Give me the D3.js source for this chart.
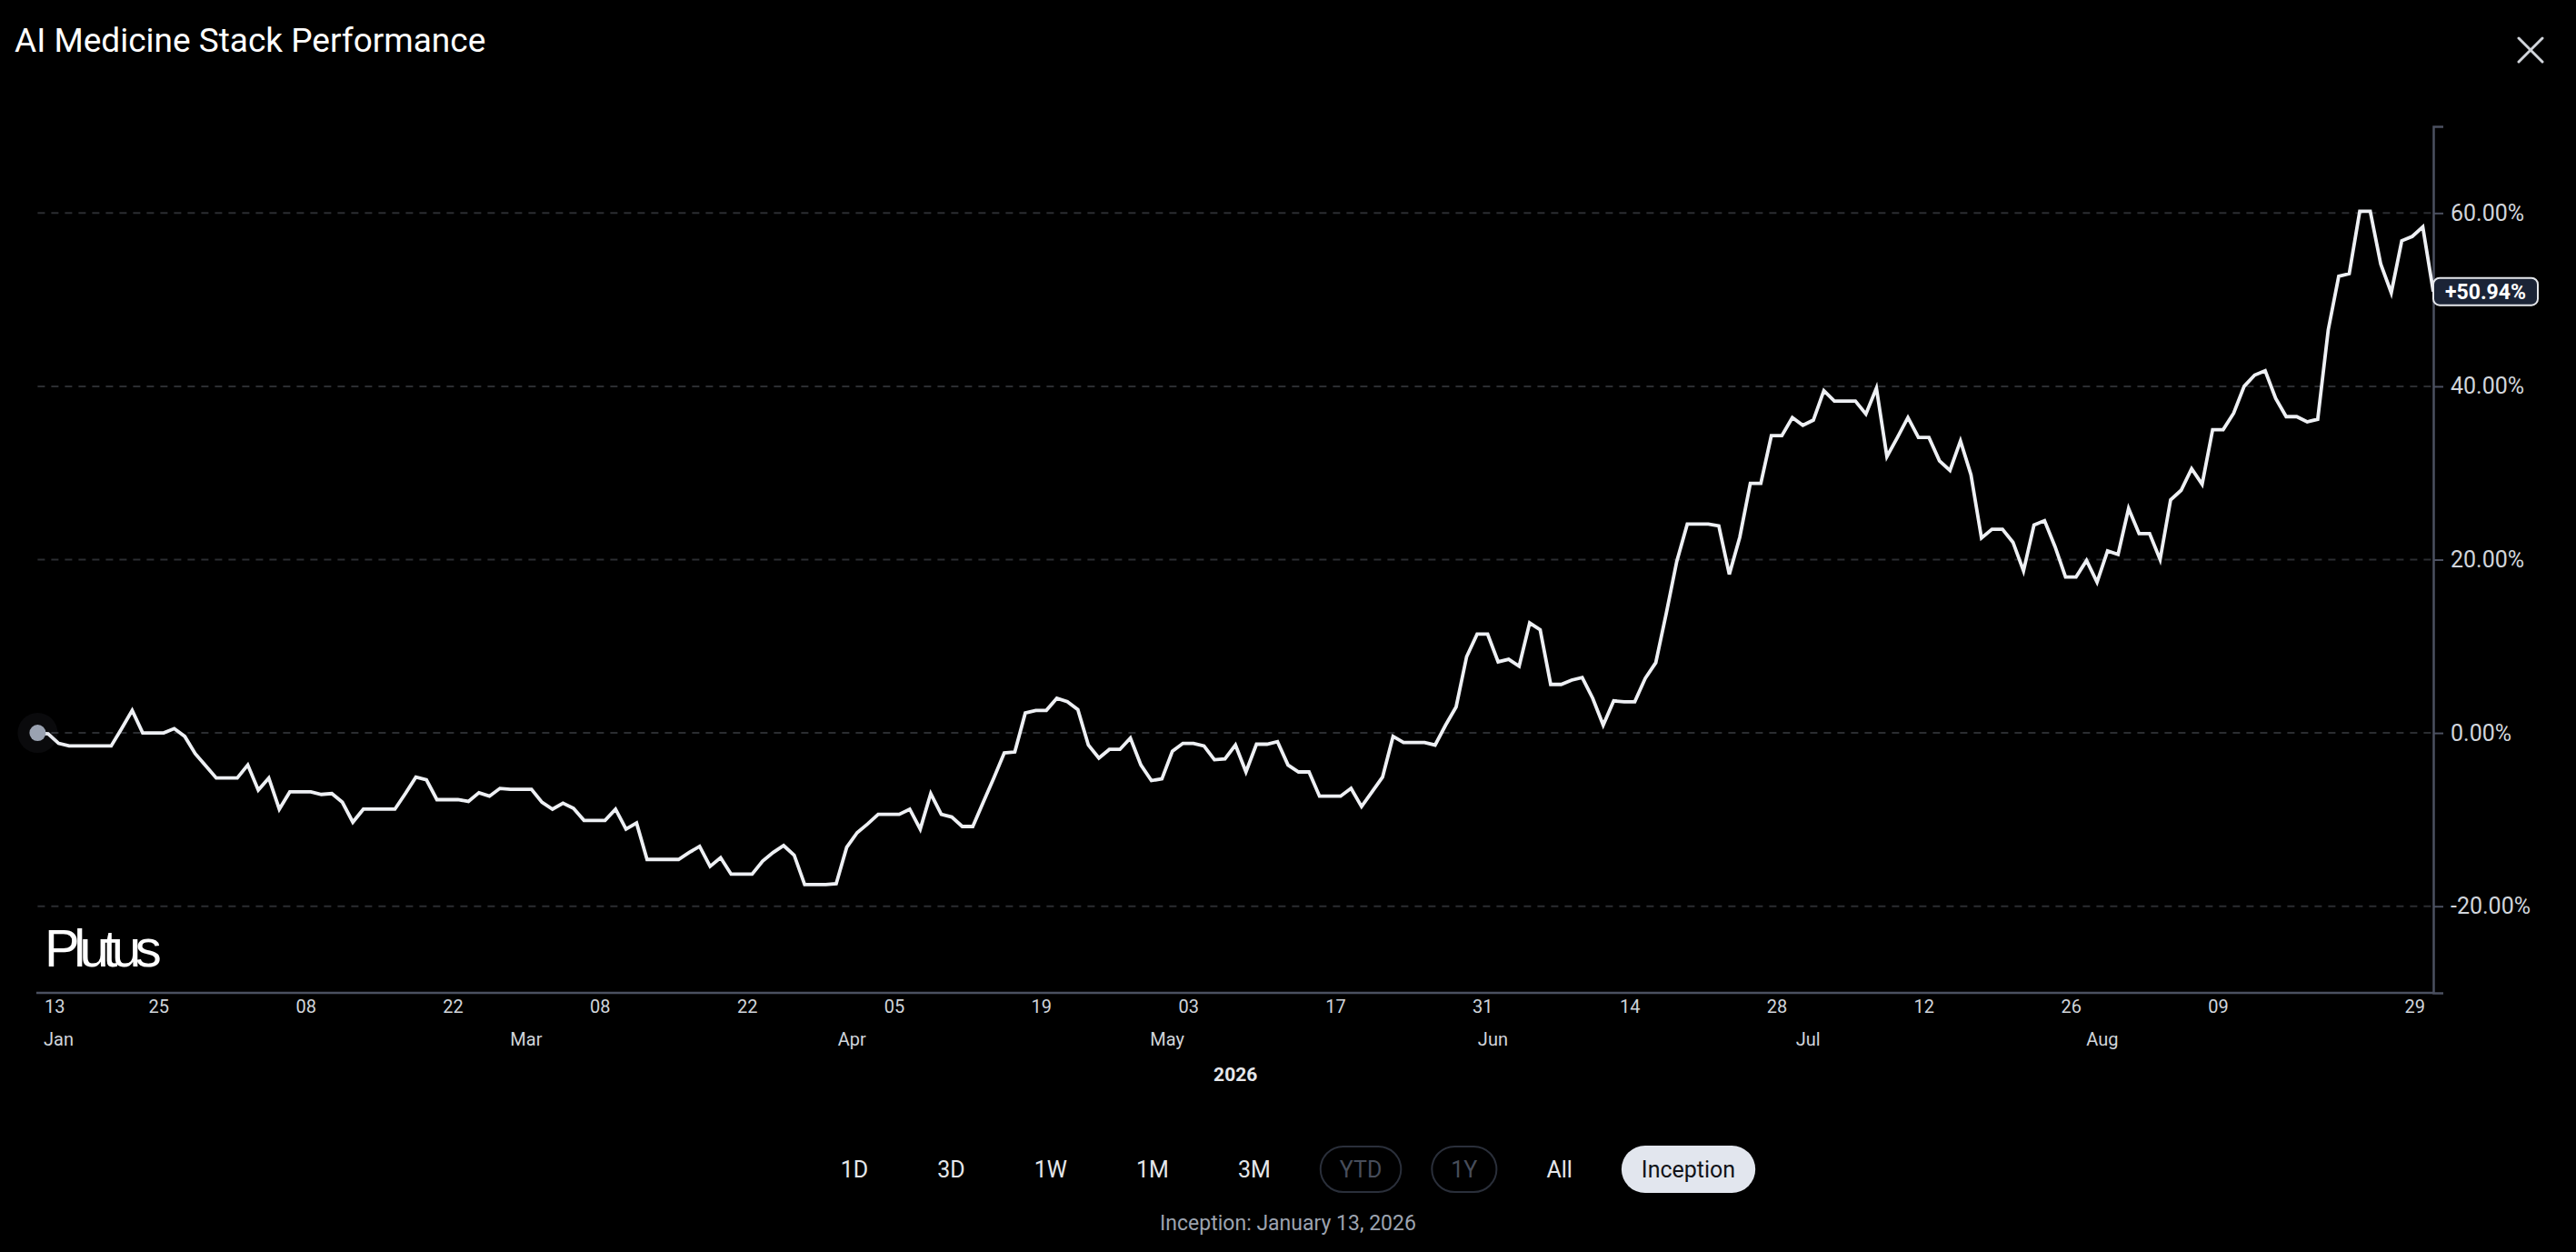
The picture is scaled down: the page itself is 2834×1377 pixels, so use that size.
<!DOCTYPE html>
<html><head><meta charset="utf-8">
<script src="https://cdn.jsdelivr.net/npm/d3@7"></script>
<style>html,body{margin:0;padding:0;background:#000;overflow:hidden}</style>
</head><body>
<svg id="chart" width="2834" height="1377"></svg>
<script>
// ---------- data ----------
const title = "AI Medicine Stack Performance";
const startDate = "2026-01-13";          // first daily observation
const values = [
  0,-0.1,-1.2,-1.5,-1.5,-1.5,-1.5,-1.5,0.5,2.6,
  0,0,0,0.5,-0.4,-2.4,-3.8,-5.2,-5.2,-5.2,
  -3.7,-6.6,-5.2,-8.8,-6.8,-6.8,-6.8,-7.1,-7.0,-8.0,
  -10.3,-8.8,-8.8,-8.8,-8.8,-7.0,-5.1,-5.4,-7.7,-7.7,
  -7.7,-7.9,-6.9,-7.3,-6.4,-6.5,-6.5,-6.5,-8.0,-8.8,
  -8.1,-8.7,-10.1,-10.1,-10.1,-8.8,-11.1,-10.4,-14.6,-14.6,
  -14.6,-14.6,-13.8,-13.1,-15.4,-14.4,-16.3,-16.3,-16.3,-14.8,
  -13.8,-13.0,-14.1,-17.5,-17.5,-17.5,-17.4,-13.2,-11.5,-10.5,
  -9.4,-9.4,-9.4,-8.8,-11.1,-7.0,-9.4,-9.7,-10.8,-10.8,
  -8.0,-5.2,-2.3,-2.2,2.3,2.6,2.6,4.0,3.6,2.7,
  -1.4,-2.9,-1.9,-1.9,-0.6,-3.7,-5.5,-5.3,-2.1,-1.2,
  -1.2,-1.5,-3.1,-3.0,-1.4,-4.5,-1.3,-1.3,-1.0,-3.7,
  -4.5,-4.5,-7.3,-7.3,-7.3,-6.4,-8.5,-6.8,-5.1,-0.4,
  -1.1,-1.1,-1.1,-1.4,0.9,3.0,8.8,11.4,11.4,8.2,
  8.5,7.7,12.7,11.9,5.6,5.6,6.1,6.4,4.0,0.9,
  3.7,3.6,3.6,6.3,8.1,13.8,19.8,24.1,24.1,24.1,
  23.9,18.3,22.6,28.8,28.8,34.3,34.3,36.4,35.5,36.1,
  39.5,38.3,38.3,38.3,36.8,39.8,31.9,34.1,36.4,34.1,
  34.1,31.4,30.3,33.7,29.8,22.5,23.5,23.5,22.0,18.7,
  24.0,24.5,21.5,18.0,18.0,19.9,17.4,21.0,20.6,25.9,
  23.0,23.0,20.0,26.9,28.0,30.5,28.7,35.0,35.0,36.9,
  40.0,41.3,41.8,38.6,36.5,36.5,35.9,36.2,46.5,52.7,
  53.0,60.2,60.2,54.1,50.8,56.8,57.3,58.4,50.94
];
const yDomain = [-30, 70];
const yTicks = [-20, 0, 20, 40, 60];
const dayTicks = ["2026-01-13","2026-01-25","2026-02-08","2026-02-22","2026-03-08","2026-03-22",
  "2026-04-05","2026-04-19","2026-05-03","2026-05-17","2026-05-31","2026-06-14","2026-06-28",
  "2026-07-12","2026-07-26","2026-08-09","2026-08-29"];
const monthLabels = ["Jan","Mar","Apr","May","Jun","Jul","Aug"];
const monthDates  = ["2026-01-13","2026-03-01","2026-04-01","2026-05-01","2026-06-01","2026-07-01","2026-07-29"];
const yearLabel = "2026";
const rangeButtons = ["1D","3D","1W","1M","3M","YTD","1Y","All","Inception"];
const disabledButtons = ["YTD","1Y"];
const activeButton = "Inception";
const footnote = "Inception: January 13, 2026";
const watermark = "Plutus";

// ---------- setup ----------
const svg = d3.select("#chart");
const FONT = "Roboto, 'Liberation Sans', sans-serif";
const parseDay = d3.timeParse("%Y-%m-%d");
const start = parseDay(startDate);
const data = values.map((v, i) => ({ date: d3.timeHour.offset(d3.timeDay.offset(start, i), 12), v }));

const plotLeft = 41.4, plotRight = 2677, plotTop = 139, plotBottom = 1092;
const x = d3.scaleTime().domain(d3.extent(data, d => d.date)).range([plotLeft, plotRight]);
const y = d3.scaleLinear().domain(yDomain).range([plotBottom, plotTop]);

// title
svg.append("text").attr("x", 16).attr("y", 57).attr("fill", "#ffffff")
  .attr("font-family", FONT).attr("font-size", 37).text(title);

// close icon
const cx = 2784, cy = 55, cs = 13;
svg.append("path").attr("d", `M${cx-cs},${cy-cs}L${cx+cs},${cy+cs}M${cx+cs},${cy-cs}L${cx-cs},${cy+cs}`)
  .attr("stroke", "#d1d5db").attr("stroke-width", 3).attr("stroke-linecap", "round");

// grid
svg.append("g").selectAll("line").data(yTicks).join("line")
  .attr("x1", plotLeft).attr("x2", plotRight).attr("y1", d => y(d)).attr("y2", d => y(d))
  .attr("stroke", "#2b2d31").attr("stroke-width", 2).attr("stroke-dasharray", "8,7");

// watermark
svg.append("text").attr("x", 49).attr("y", 1063).attr("fill", "#ffffff")
  .attr("font-family", "'Liberation Sans', Arial, sans-serif").attr("font-size", 58)
  .attr("letter-spacing", "-6.5px").text(watermark);

// x axis line
svg.append("line").attr("x1", 40).attr("x2", plotRight).attr("y1", plotBottom).attr("y2", plotBottom)
  .attr("stroke", "#4b5060").attr("stroke-width", 2.5);

// y axis (right)
const yAxis = svg.append("g").attr("transform", `translate(${plotRight},0)`)
  .call(d3.axisRight(y).tickValues(yTicks).tickSize(11).tickSizeOuter(11).tickPadding(8)
    .tickFormat(d => d.toFixed(2) + "%"));
yAxis.select(".domain").attr("stroke", "#4b5060").attr("stroke-width", 2.5);
yAxis.selectAll(".tick line").attr("stroke", "#4b5060").attr("stroke-width", 2);
yAxis.selectAll(".tick text").attr("fill", "#d1d5db").attr("font-family", FONT).attr("font-size", 25);

// x axis day ticks
const tickDates = dayTicks.map(parseDay);
const xAxis = svg.append("g").attr("transform", `translate(0,${plotBottom})`)
  .call(d3.axisBottom(x).tickValues(tickDates).tickSize(0).tickPadding(8).tickFormat(d3.timeFormat("%d")));
xAxis.select(".domain").remove();
xAxis.selectAll(".tick text").attr("fill", "#d1d5db").attr("font-family", FONT).attr("font-size", 20);
const nT = tickDates.length;
xAxis.selectAll(".tick").each(function(d, i) {
  const t = d3.select(this).select("text");
  if (i === 0) { d3.select(this).attr("transform", "translate(49,0)"); t.attr("text-anchor", "start"); }
  if (i === nT - 1) { d3.select(this).attr("transform", "translate(2668,0)"); t.attr("text-anchor", "end"); }
});

// month labels
svg.append("g").selectAll("text").data(monthLabels).join("text")
  .attr("x", (d, i) => i === 0 ? 48 : x(parseDay(monthDates[i])))
  .attr("y", 1150)
  .attr("text-anchor", (d, i) => i === 0 ? "start" : "middle")
  .attr("fill", "#d1d5db").attr("font-family", FONT).attr("font-size", 20).text(d => d);

// year label
svg.append("text").attr("x", (plotLeft + plotRight) / 2).attr("y", 1189).attr("text-anchor", "middle")
  .attr("fill", "#e5e7eb").attr("font-family", FONT).attr("font-size", 21).attr("font-weight", "bold")
  .text(yearLabel);

// line
svg.append("path").datum(data)
  .attr("d", d3.line().x(d => x(d.date)).y(d => y(d.v)))
  .attr("fill", "none").attr("stroke", "#eef0f4").attr("stroke-width", 3.8)
  .attr("stroke-linejoin", "miter");

// start marker
const first = data[0];
svg.append("circle").attr("cx", x(first.date)).attr("cy", y(first.v)).attr("r", 22)
  .attr("fill", "#8a93a6").attr("opacity", 0.07);
svg.append("circle").attr("cx", x(first.date)).attr("cy", y(first.v)).attr("r", 9)
  .attr("fill", "#9aa2b1");

// last value badge
const last = data[data.length - 1];
const badge = svg.append("g").attr("transform", `translate(${plotRight},${y(last.v)})`);
badge.append("rect").attr("x", 0).attr("y", -15).attr("width", 115).attr("height", 30).attr("rx", 7)
  .attr("fill", "#1b2436").attr("stroke", "#e5e7eb").attr("stroke-width", 2);
badge.append("text").attr("x", 57.5).attr("y", 0).attr("dy", "0.36em").attr("text-anchor", "middle")
  .attr("fill", "#ffffff").attr("font-family", FONT).attr("font-size", 23).attr("font-weight", "bold")
  .text((last.v >= 0 ? "+" : "") + last.v.toFixed(2) + "%");

// range buttons
const btnG = svg.append("g");
const pad = 22, gap = 32, bh = 52, by = 1286;
const measures = rangeButtons.map(b => {
  const t = btnG.append("text").attr("font-family", FONT).attr("font-size", 25).text(b);
  const w = t.node().getComputedTextLength(); t.remove(); return w;
});
const widths = measures.map(w => w + 2 * pad);
const total = d3.sum(widths) + gap * (widths.length - 1);
let cursor = 1417 - total / 2;
rangeButtons.forEach((b, i) => {
  const w = widths[i];
  const g = btnG.append("g").attr("transform", `translate(${cursor},${by})`);
  const disabled = disabledButtons.includes(b), active = b === activeButton;
  if (active) {
    g.append("rect").attr("x", 0).attr("y", -bh / 2).attr("width", w).attr("height", bh).attr("rx", bh / 2)
      .attr("fill", "#e2e6ee");
  } else if (disabled) {
    g.append("rect").attr("x", 1).attr("y", -bh / 2 + 1).attr("width", w - 2).attr("height", bh - 2).attr("rx", bh / 2 - 1)
      .attr("fill", "none").attr("stroke", "#2a2f3a").attr("stroke-width", 2);
  }
  g.append("text").attr("x", w / 2).attr("y", 0).attr("dy", "0.36em").attr("text-anchor", "middle")
    .attr("font-family", FONT).attr("font-size", 25)
    .attr("fill", active ? "#111318" : disabled ? "#474d5a" : "#e5e7eb").text(b);
  cursor += w + gap;
});

// footnote
svg.append("text").attr("x", 1417).attr("y", 1345).attr("dy", "0.36em").attr("text-anchor", "middle")
  .attr("fill", "#9ca3af").attr("font-family", FONT).attr("font-size", 23).text(footnote);
</script>
</body></html>
